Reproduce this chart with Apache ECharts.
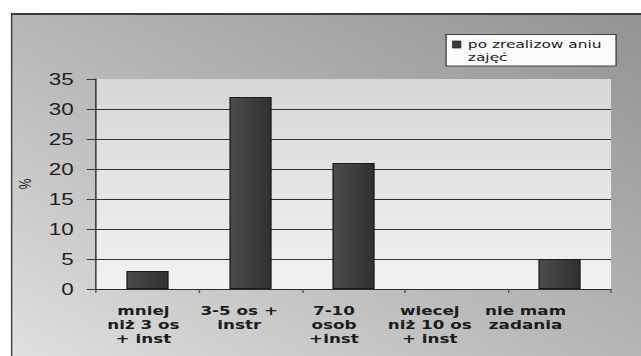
<!DOCTYPE html>
<html>
<head>
<meta charset="utf-8">
<script src="https://cdn.jsdelivr.net/npm/echarts@6/dist/echarts.min.js"></script>
<style>
  html, body { margin: 0; padding: 0; background: #fff; overflow: hidden; width: 641px; height: 356px; }
  /* the chart is laid out narrow and widened horizontally, like the original wide-set figure */
  #chart { width: 458px; height: 356px; transform-origin: 0 0; transform: scaleX(1.39956); }
</style>
</head>
<body>
<div id="chart"></div>
<script>
// categories along the x axis
const categories = [
  'mniej\nniż 3 os\n+ inst',
  '3-5 os +\ninstr',
  '7-10\nosob\n+inst',
  'wiecej\nniż 10 os\n+ inst',
  'nie mam\nzadania'
];
// series name and values (%)
const seriesName = 'po zrealizow aniu\nzajęć';
const values = [3, 32, 21, 0, 5];
// y axis scale
const yMin = 0;
const yMax = 35;
const yStep = 5;

// where each category caption sits, in category units across the plot
// (captions run on a slightly tighter pitch than the bars)
const captionSlots = [0.46, 1.39, 2.31, 3.24, 4.17];

const chart = echarts.init(document.getElementById('chart'), null, { renderer: 'svg' });

const option = {
  backgroundColor: '#ffffff',
  animation: false,
  graphic: [
    {
      type: 'rect', z: -10, silent: true,
      shape: { x: 7.9, y: 13, width: 460, height: 360 },
      style: {
        fill: {
          type: 'linear', x: 0, y: 1, x2: 1, y2: 0,
          colorStops: [
            { offset: 0, color: '#e2e2e2' },
            { offset: 0.45, color: '#bababa' },
            { offset: 1, color: '#929292' }
          ]
        }
      }
    },
    {
      type: 'line', z: -9, silent: true,
      shape: { x1: 7.9, y1: 14, x2: 460, y2: 14 },
      style: { stroke: '#3a3a3a', lineWidth: 2 }
    },
    {
      type: 'line', z: -9, silent: true,
      shape: { x1: 8.3, y1: 13, x2: 8.3, y2: 360 },
      style: { stroke: '#3a3a3a', lineWidth: 1 }
    },
    {
      type: 'rect', z: 1, silent: true,
      shape: { x: 318.7, y: 34.5, width: 121.5, height: 31.5 },
      style: { fill: '#fbfbfb', stroke: '#444444', lineWidth: 1 }
    }
  ],
  legend: {
    left: 323,
    top: 25,
    padding: 0,
    selectedMode: false,
    icon: 'rect',
    itemWidth: 6,
    itemHeight: 7,
    itemStyle: { color: '#3a3b3d', borderColor: '#1a1a1a', borderWidth: 0.6 },
    // a blank first line keeps the marker level with the first line of the name
    formatter: name => ' \n' + name,
    textStyle: { fontFamily: 'DejaVu Sans', fontSize: 11, lineHeight: 13, color: '#1a1a1a' },
    data: [seriesName]
  },
  grid: {
    left: 68.6,
    right: 21.4,
    top: 79,
    bottom: 67,
    show: true,
    borderWidth: 0,
    backgroundColor: {
      type: 'linear', x: 0, y: 0, x2: 0, y2: 1,
      colorStops: [
        { offset: 0, color: '#d6d7d9' },
        { offset: 1, color: '#f2f2f2' }
      ]
    }
  },
  xAxis: [
    {
      type: 'category',
      data: categories,
      boundaryGap: true,
      axisLine: { show: true, lineStyle: { color: '#2a2a2a', width: 1 } },
      axisTick: { show: true, length: 4, alignWithLabel: false, lineStyle: { color: '#555' } },
      axisLabel: { show: false },
      splitLine: { show: false }
    },
    {
      // caption axis: same span as the category axis, one unit per category
      type: 'value',
      position: 'bottom',
      min: 0,
      max: categories.length,
      axisLine: { show: false },
      axisTick: { show: false },
      splitLine: { show: false },
      axisLabel: {
        customValues: captionSlots,
        showMinLabel: true,
        showMaxLabel: true,
        hideOverlap: false,
        margin: 14,
        formatter: v => categories[Math.floor(v)] || '',
        fontFamily: 'DejaVu Sans',
        fontWeight: 'bold',
        fontSize: 12,
        lineHeight: 14,
        color: '#1c1c1c'
      }
    }
  ],
  yAxis: {
    type: 'value',
    min: yMin,
    max: yMax,
    interval: yStep,
    name: '%',
    nameLocation: 'middle',
    nameGap: 44,
    nameTextStyle: { fontFamily: 'Liberation Sans', fontSize: 12, color: '#1e1e1e' },
    axisLine: { show: true, lineStyle: { color: '#2a2a2a', width: 1 } },
    axisTick: { show: true, length: 6.6, lineStyle: { color: '#3a3a3a' } },
    axisLabel: { margin: 16, fontFamily: 'Liberation Sans', fontSize: 16, color: '#1e1e1e' },
    splitLine: {
      show: true,
      lineStyle: {
        width: 1,
        color: ['#333', '#333', '#333', '#333', '#333', '#333', '#333', 'rgba(0,0,0,0)']
      }
    }
  },
  series: [{
    name: seriesName,
    type: 'bar',
    xAxisIndex: 0,
    // an empty bar gets no outline
    data: values.map(v => (v === 0 ? { value: v, itemStyle: { borderWidth: 0 } } : v)),
    barWidth: '41%',
    itemStyle: {
      color: {
        type: 'linear', x: 0, y: 0, x2: 1, y2: 0,
        colorStops: [
          { offset: 0, color: '#4b4c4e' },
          { offset: 0.5, color: '#3d3e40' },
          { offset: 1, color: '#2f3031' }
        ]
      },
      borderColor: '#1a1a1a',
      borderWidth: 1
    }
  }]
};

chart.setOption(option);
</script>
</body>
</html>
